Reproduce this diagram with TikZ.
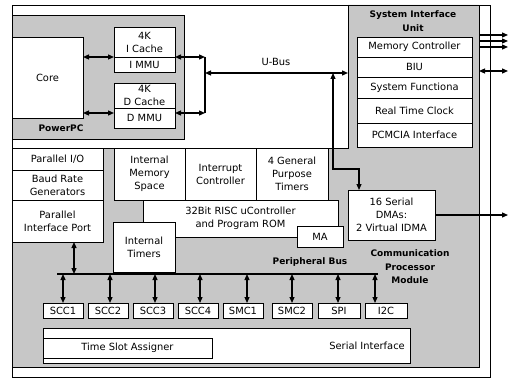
\documentclass[tikz,border=0pt]{standalone}
\usepackage{fontspec}
\setmainfont{DejaVu Sans}
\usetikzlibrary{arrows.meta}
\newcommand\regf{\fontsize{9.9}{13}\selectfont}
\newcommand\bldf{\fontsize{9}{13.5}\selectfont\bfseries}
\newcommand\mybox[7][]{\node[box,#1,minimum width={(#5-#3)*1pt},minimum height={(#6-#4)*1pt}] (#2) at ({(#3+#5)/2},{(#4+#6)/2}) {#7};}
\tikzset{
  box/.style={draw=black, fill=white, line width=0.9pt, inner sep=0pt, outer sep=0pt, align=center, font=\regf},
  con/.style={line width=1.2pt},
  bi/.style={con, {Triangle[length=6pt,width=5pt]}-{Triangle[length=6pt,width=5pt]}},
  ar/.style={con, -{Triangle[length=6pt,width=5pt]}},
  shadearea/.style={fill=black!22, draw=black, line width=0.7pt},
  lbl/.style={font=\bldf, inner sep=0pt, align=center},
  txt/.style={font=\regf, inner sep=0pt, align=center}
}
\begin{document}
\begin{tikzpicture}[x=1pt,y=-1pt]
\useasboundingbox[fill=white] (0,0) rectangle (511,385);
% outer frame
\draw[line width=0.8pt] (12,5) rectangle (490,377);
% shaded regions
\draw[shadearea] (12,148) -- (348,148) -- (348,5) -- (479,5) -- (479,367) -- (12,367) -- cycle;
\draw[shadearea] (12,15) rectangle (184,139);
% PowerPC
\mybox{core}{12}{37}{83}{118}{Core}
\mybox{icache}{114}{27}{175}{57}{4K\\I Cache}
\mybox{immu}{114}{57}{175}{72}{I MMU}
\mybox{dcache}{114}{83}{175}{108}{4K\\D Cache}
\mybox{dmmu}{114}{108}{175}{128}{D MMU}
\node[lbl] (ppclbl) at (61,128) {PowerPC};
% SIU
\node[lbl] (siulbl) at (413,21) {System Interface\\Unit};
\mybox{memctl}{357}{37}{472}{57}{Memory Controller}
\mybox{biu}{357}{57}{472}{77}{BIU}
\mybox{sysfun}{357}{77}{472}{98}{System Functiona}
\mybox{rtc}{357}{98}{472}{123}{Real Time Clock}
\mybox{pcmcia}{357}{123}{472}{147}{PCMCIA Interface}
% CPM
\mybox{pio}{12}{148}{103}{170}{Parallel I/O}
\mybox{baud}{12}{170}{103}{200}{Baud Rate\\Generators}
\mybox{ppi}{12}{200}{103}{242}{Parallel\\Interface Port}
\mybox{ims}{114}{148}{185}{200}{Internal\\Memory\\Space}
\mybox{intc}{185}{148}{256}{200}{Interrupt\\Controller}
\mybox{gpt}{256}{148}{328}{200}{4 General\\Purpose\\Timers}
\mybox{risc}{143}{200}{338}{237}{32Bit RISC uController\\and Program ROM}
\mybox{itimers}{113}{222}{175}{272}{Internal\\Timers}
\mybox{ma}{297}{226}{343}{247}{MA}
\mybox{dma}{348}{190}{435}{240}{16 Serial\\DMAs:\\2 Virtual IDMA}
\node[lbl] (perlbl) at (310,262) {Peripheral Bus};
\node[lbl] (cpmlbl) at (410,267) {Communication\\Processor\\Module};
\mybox{scca}{43}{303}{83}{318}{SCC1}
\mybox{sccb}{88}{303}{128}{318}{SCC2}
\mybox{sccc}{133}{303}{173}{318}{SCC3}
\mybox{sccd}{178}{303}{218}{318}{SCC4}
\mybox{smca}{223}{303}{263}{318}{SMC1}
\mybox{smcb}{272}{303}{312}{318}{SMC2}
\mybox{spi}{318}{303}{360}{318}{SPI}
\mybox{iic}{365}{303}{407}{318}{I2C}
\mybox{si}{43}{328}{410}{363}{}
\node[txt, anchor=east] (silbl) at (405,346) {Serial Interface};
\mybox{tsa}{43}{338}{212}{358}{Time Slot Assigner}
% U-Bus
\node[txt] (ubuslbl) at (276,62) {U-Bus};
\coordinate (jx) at (205,57);
\coordinate (jy) at (205,113);
\coordinate (ub0) at (205,73);
\coordinate (siuL) at (348,73);
\draw[bi] (core.east |- jx) -- (icache.west |- jx);
\draw[bi] (core.east |- jy) -- (dmmu.west |- jy);
\draw[bi] (immu.east |- jx) -- (jx);
\draw[bi] (dmmu.east |- jy) -- (jy);
\draw[con] (jx) -- (jy);
\draw[bi] (ub0) -- (siuL);
\coordinate (uv) at (333,73);
\coordinate (uk) at (333,169);
\coordinate (uk2) at (359,169);
\draw[bi] (uv) -- (uk) -- (uk2) -- (dma.north -| uk2);
% outputs
\coordinate (dmaout) at (508,215);
\draw[ar] (dma.east) -- (dmaout);
\foreach \yy/\nm in {35/a,41/b,47/c}{
  \coordinate (so\nm) at (479,\yy);
  \coordinate (se\nm) at (508,\yy);
  \draw[ar] (so\nm) -- (se\nm);
}
\coordinate (sod) at (479,71);
\coordinate (sed) at (508,71);
\draw[bi] (sod) -- (sed);
% peripheral bus
\coordinate (busL) at (57,274);
\coordinate (busR) at (378,274);
\draw[line width=1.6pt] (busL) -- (busR);
\coordinate (pb0) at (74,274);
\draw[bi] (ppi.south -| pb0) -- (pb0);
\foreach \xx/\nm in {63/scca,110/sccb,155/sccc,200/sccd,247/smca,292/smcb,338/spi,375/iic}{
  \coordinate (b\nm) at (\xx,274);
  \draw[bi] (b\nm) -- (\nm.north -| b\nm);
}
\end{tikzpicture}
\end{document}
